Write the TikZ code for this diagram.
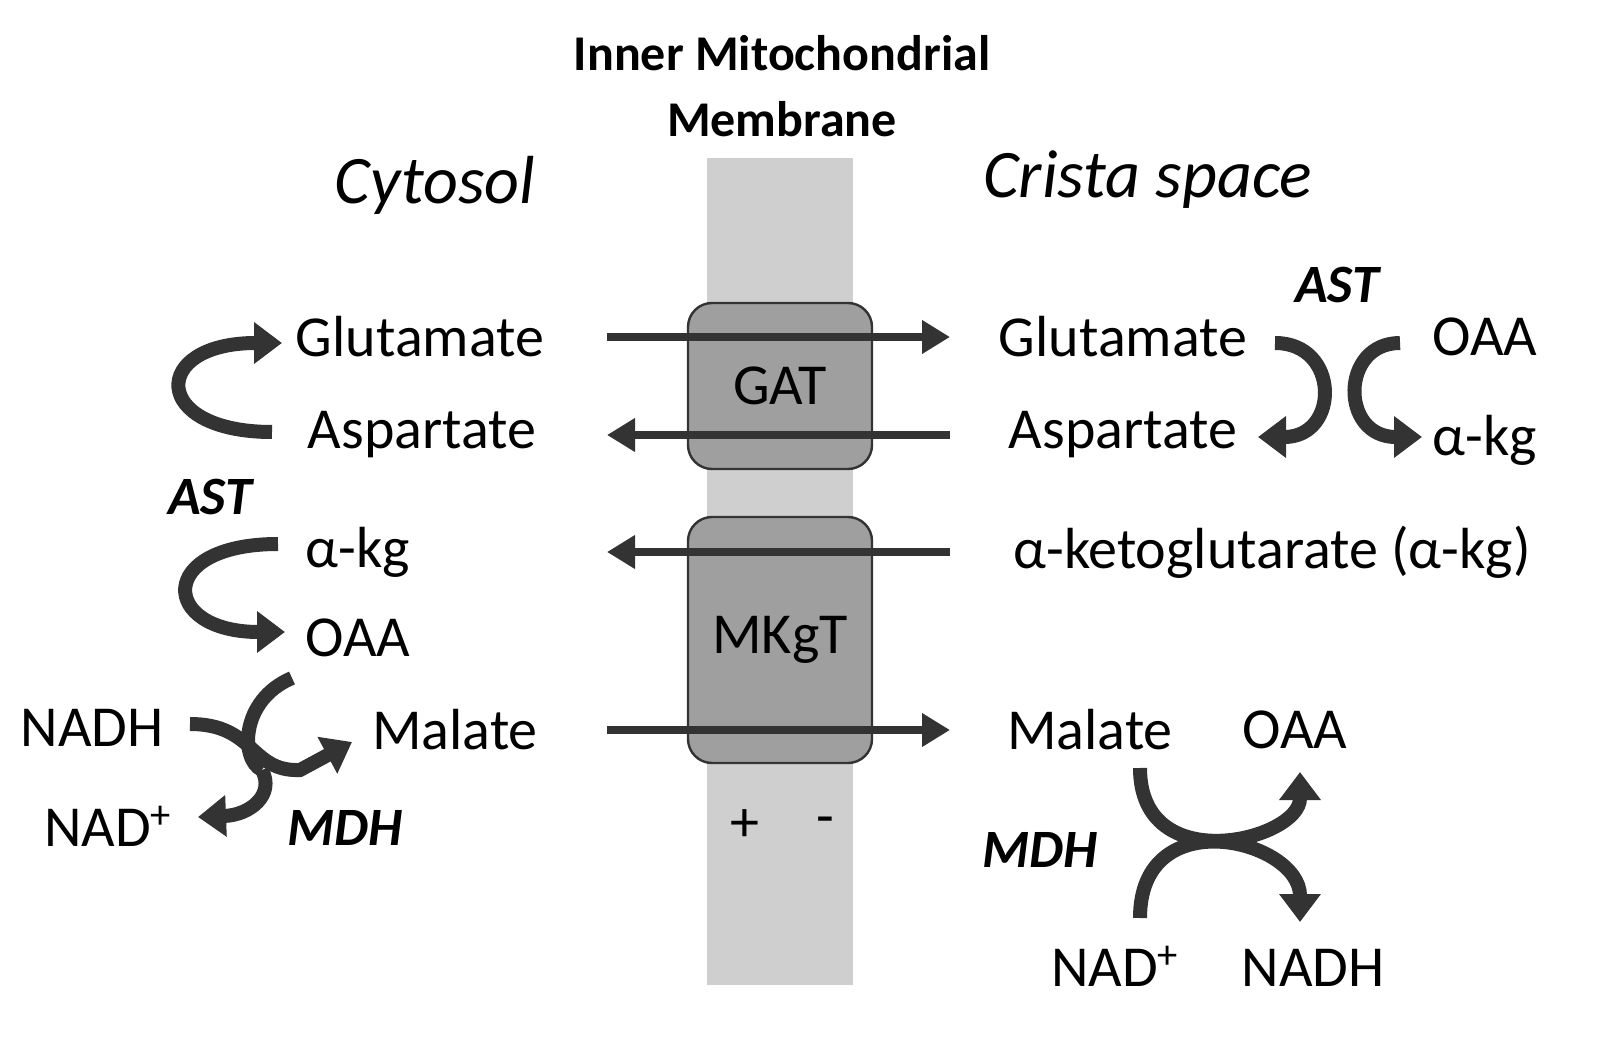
\documentclass[tikz,border=0pt]{standalone}
\usepackage{fontspec}
\setmainfont{Carlito}
\usetikzlibrary{arrows.meta}
\definecolor{ink}{HTML}{333333}
\tikzset{
  lbl/.style={font=\fontsize{29}{32}\selectfont},
  enz/.style={font=\fontsize{27}{30}\selectfont\bfseries\itshape},
  side/.style={font=\fontsize{34}{38}\selectfont\itshape},
  trans/.style={draw=ink,line width=1.2pt,rounded corners=12pt,fill=gray!75},
  flux/.style={ink,line width=4pt,-{Triangle[length=14pt,width=16pt]}},
  turn/.style={ink,line width=7pt,-{Triangle[length=14pt,width=20pt]}},
  swoop/.style={ink,line width=7pt}
}
\begin{document}
\begin{tikzpicture}[x=0.5pt,y=-0.5pt]
        \useasboundingbox (0,0) rectangle (1620,1042);
        % membrane and carriers
        \fill[gray!38] (707,158) rectangle (853,985);
        \node[trans,minimum width=92pt,minimum height=83pt] (gat) at (780,386) {};
        \node[trans,minimum width=92pt,minimum height=123pt] (mkgt) at (780,640) {};
        \node[lbl] at (gat) {GAT};
        \node[lbl] at (mkgt) {MKgT};
        \node[font=\fontsize{25}{33}\selectfont\bfseries,align=center] (imm) at (782,86) {Inner Mitochondrial\\Membrane};
        \node[side] (cyto) at (435,185) {Cytosol};
        \node[side] (crista) at (1148,180) {Crista space};
        \node[lbl] (plus) at (745,826) {+};
        \node[lbl] (minus) at (825,826) {-};
        % cytosol side
        \node[lbl] (gluL) at (420,337) {Glutamate};
        \node[lbl] (aspL) at (422,435) {Aspartate};
        \node[lbl] (akgL) at (358,552) {α-kg};
        \node[lbl] (oaaL) at (358,638) {OAA};
        \node[lbl] (nadhL) at (92,728) {NADH};
        \node[lbl] (malL) at (455,730) {Malate};
        \node[lbl] (nadL) at (108,826) {NAD\textsuperscript{+}};
        \node[enz] (astL) at (210,497) {AST};
        \node[enz] (mdhL) at (345,828) {MDH};
        % crista side
        \node[lbl] (gluR) at (1123,337) {Glutamate};
        \node[lbl] (aspR) at (1123,435) {Aspartate};
        \node[lbl] (akgR) at (1272,552) {α-ketoglutarate (α-kg)};
        \node[lbl] (malR) at (1090,730) {Malate};
        \node[lbl] (oaaR) at (1295,730) {OAA};
        \node[lbl] (oaaT) at (1485,337) {OAA};
        \node[lbl] (akgT) at (1485,440) {α-kg};
        \node[lbl] (nadR) at (1115,966) {NAD\textsuperscript{+}};
        \node[lbl] (nadhR) at (1313,968) {NADH};
        \node[enz] (astR) at (1337,285) {AST};
        \node[enz] (mdhR) at (1040,850) {MDH};
        % transport across the membrane
        \draw[flux] (gluL.east -| 607,0) -- (gluR.west -| 950,0);
        \draw[flux] (aspR.west -| 950,0) -- (aspL.east -| 607,0);
        \draw[flux] (akgR.west -| 950,0) -- (607,552);
        \draw[flux] (malL.east -| 607,0) -- (malR.west -| 950,0);
        % cytosolic reactions
        \draw[turn] (272,432) .. controls (150,432) and (150,343) .. (282,343);
        \draw[turn] (278,544) .. controls (155,544) and (160,632) .. (285,632);
        \draw[swoop] (292,678) .. controls (240,700) and (240,760) .. (262,770);
        \draw[turn] (262,770) .. controls (275,795) and (250,815) .. (198,817);
        \draw[turn] (190,724) .. controls (255,724) and (250,772) .. (300,770) -- (352,742);
        % crista reactions
        \draw[turn] (1275,343) .. controls (1340,343) and (1340,437) .. (1258,437);
        \draw[turn] (1400,343) .. controls (1340,343) and (1340,437) .. (1422,437);
        \draw[turn] (1140,768) .. controls (1140,880) and (1300,840) .. (1300,772);
        \draw[turn] (1140,918) .. controls (1140,800) and (1300,840) .. (1300,922);
    \end{tikzpicture}
\end{document}
